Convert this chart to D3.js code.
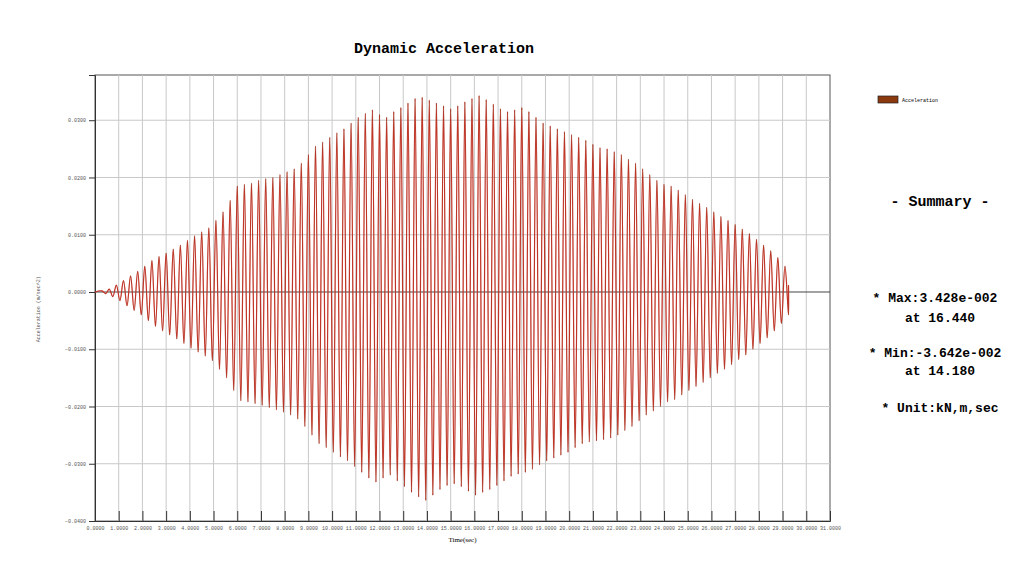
<!DOCTYPE html>
<html><head><meta charset="utf-8">
<script src="https://cdn.jsdelivr.net/npm/d3@7"></script>
<style>body{margin:0;background:#fff}svg{display:block}</style>
</head><body><div id="chart"></div>
<script>
// peak values per 0.3 s cycle
var cycleStart = 0.3, cycleLen = 0.3;
var upperPeaks = [
 0.0002,0.0005,0.0012,0.0020,0.0028,0.0036,0.0045,0.0055,0.0062,0.0068,
 0.0075,0.0082,0.0090,0.0098,0.0105,0.0112,0.0125,0.0140,0.0160,0.0185,
 0.0188,0.0190,0.0195,0.0198,0.0200,0.0205,0.0210,0.0215,0.0225,0.0240,
 0.0255,0.0262,0.0270,0.0278,0.0285,0.0295,0.0305,0.0312,0.0318,0.0310,
 0.0305,0.0315,0.0322,0.0330,0.0338,0.0340,0.0335,0.0330,0.0325,0.0320,
 0.0325,0.0332,0.0338,0.0343,0.0336,0.0328,0.0320,0.0315,0.0318,0.0322,
 0.0315,0.0305,0.0295,0.0290,0.0285,0.0280,0.0275,0.0270,0.0265,0.0258,
 0.0252,0.0250,0.0245,0.0240,0.0232,0.0225,0.0215,0.0205,0.0195,0.0188,
 0.0185,0.0178,0.0170,0.0162,0.0155,0.0148,0.0140,0.0132,0.0125,0.0118,
 0.0110,0.0102,0.0092,0.0082,0.0072,0.0060,0.0045];
var lowerPeaks = [
 -0.0003,-0.0008,-0.0015,-0.0024,-0.0032,-0.0040,-0.0050,-0.0060,-0.0068,-0.0075,
 -0.0082,-0.0090,-0.0098,-0.0105,-0.0112,-0.0120,-0.0135,-0.0150,-0.0172,-0.0190,
 -0.0192,-0.0195,-0.0198,-0.0202,-0.0206,-0.0210,-0.0215,-0.0222,-0.0235,-0.0250,
 -0.0265,-0.0272,-0.0280,-0.0288,-0.0295,-0.0305,-0.0315,-0.0325,-0.0332,-0.0325,
 -0.0320,-0.0330,-0.0340,-0.0350,-0.0358,-0.0364,-0.0355,-0.0345,-0.0338,-0.0335,
 -0.0340,-0.0348,-0.0355,-0.0350,-0.0345,-0.0338,-0.0330,-0.0322,-0.0318,-0.0315,
 -0.0310,-0.0302,-0.0295,-0.0290,-0.0285,-0.0280,-0.0272,-0.0265,-0.0262,-0.0260,
 -0.0258,-0.0255,-0.0250,-0.0242,-0.0235,-0.0225,-0.0215,-0.0208,-0.0200,-0.0192,
 -0.0188,-0.0180,-0.0172,-0.0165,-0.0158,-0.0150,-0.0142,-0.0135,-0.0127,-0.0118,
 -0.0110,-0.0100,-0.0090,-0.0080,-0.0068,-0.0055,-0.0040];
var yTicks = [0.03,0.02,0.01,0,-0.01,-0.02,-0.03,-0.04];
var summaryLines = ["* Max:3.428e-002","at 16.440","* Min:-3.642e-002","at 14.180","* Unit:kN,m,sec"];

var width = 1036, height = 562;
var yMin = -0.04, yMax = 0.0379;

var svg = d3.select("#chart").append("svg").attr("width", width).attr("height", height);

var x = d3.scaleLinear().domain([0, 31]).range([95, 830]);
var y = d3.scaleLinear().domain([yMin, yMax]).range([521, 75]);

// plot frame
svg.append("rect").attr("x", x(0)).attr("y", y(yMax))
  .attr("width", x(31) - x(0)).attr("height", y(yMin) - y(yMax))
  .attr("fill", "none").attr("stroke", "#555");

// grid
svg.append("g").selectAll("line").data(d3.range(1, 31)).join("line")
  .attr("x1", d => x(d)).attr("x2", d => x(d))
  .attr("y1", y(yMax)).attr("y2", y(yMin))
  .attr("stroke", "#c8c8c8");
svg.append("g").selectAll("line").data(yTicks).join("line")
  .attr("x1", x(0)).attr("x2", x(31))
  .attr("y1", d => y(d)).attr("y2", d => y(d))
  .attr("stroke", d => d === 0 ? "#444" : "#c8c8c8");

// axes
var xAxis = svg.append("g").attr("transform", "translate(0," + y(yMin) + ")")
  .call(d3.axisBottom(x).tickValues(d3.range(0, 32)).tickSize(-10).tickFormat(d3.format(".4f")));
var yAxis = svg.append("g").attr("transform", "translate(" + x(0) + ",0)")
  .call(d3.axisLeft(y).tickValues(yTicks).tickSize(6).tickFormat(d3.format(".4f")));
[xAxis, yAxis].forEach(function(a){
  a.select(".domain").attr("stroke", "#333");
  a.selectAll("line").attr("stroke", "#333");
  a.selectAll("text").attr("font-family", "Liberation Mono").attr("font-size", 5).attr("fill", "#555");
});
xAxis.selectAll("text").attr("dy", "1.2em");

svg.append("text").attr("x", x(15.5)).attr("y", height - 20).attr("text-anchor", "middle")
  .attr("font-family", "Liberation Serif").attr("font-size", 7).text("Time(sec)");
svg.append("text").attr("transform", "translate(40," + y(-0.003) + ") rotate(-90)")
  .attr("text-anchor", "middle").attr("font-family", "Liberation Mono").attr("font-size", 5).attr("fill", "#555")
  .text("Acceleration (m/sec^2)");

// waveform through alternating peaks
var pts = [{t: 0, v: 0}];
upperPeaks.forEach(function(u, i){
  var t0 = cycleStart + i * cycleLen;
  pts.push({t: t0, v: u});
  pts.push({t: t0 + cycleLen / 2, v: lowerPeaks[i]});
});
pts.push({t: 29.25, v: 0.0012});
var line = d3.line().curve(d3.curveCatmullRom).x(d => x(d.t)).y(d => y(d.v));
svg.append("path").datum(pts).attr("d", line)
  .attr("fill", "none").attr("stroke", "#d83a30").attr("stroke-width", 1.2);
svg.append("path").datum(pts).attr("d", line)
  .attr("fill", "none").attr("stroke", "#7a2a10").attr("stroke-width", 0.5).attr("opacity", 0.6);

// title
svg.append("text").attr("x", 444).attr("y", 53).attr("text-anchor", "middle")
  .attr("font-family", "Liberation Mono").attr("font-weight", "bold").attr("font-size", 15)
  .text("Dynamic Acceleration");

// legend
svg.append("rect").attr("x", 878).attr("y", 96).attr("width", 20).attr("height", 7)
  .attr("fill", "#8b3a10").attr("stroke", "#222").attr("stroke-width", 0.7);
svg.append("text").attr("x", 902).attr("y", 102).attr("font-family", "Liberation Mono")
  .attr("font-size", 5).text("Acceleration");

// summary
svg.append("text").attr("x", 940).attr("y", 206).attr("text-anchor", "middle")
  .attr("font-family", "Liberation Mono").attr("font-weight", "bold").attr("font-size", 15)
  .text("- Summary -");
var sy = [302, 322, 357, 375, 412];
var sx = [935, 940, 935, 940, 940];
svg.append("g").selectAll("text").data(summaryLines).join("text")
  .attr("x", (d, i) => sx[i]).attr("y", (d, i) => sy[i]).attr("text-anchor", "middle")
  .attr("font-family", "Liberation Mono").attr("font-weight", "bold").attr("font-size", 13)
  .text(d => d);
</script></body></html>
